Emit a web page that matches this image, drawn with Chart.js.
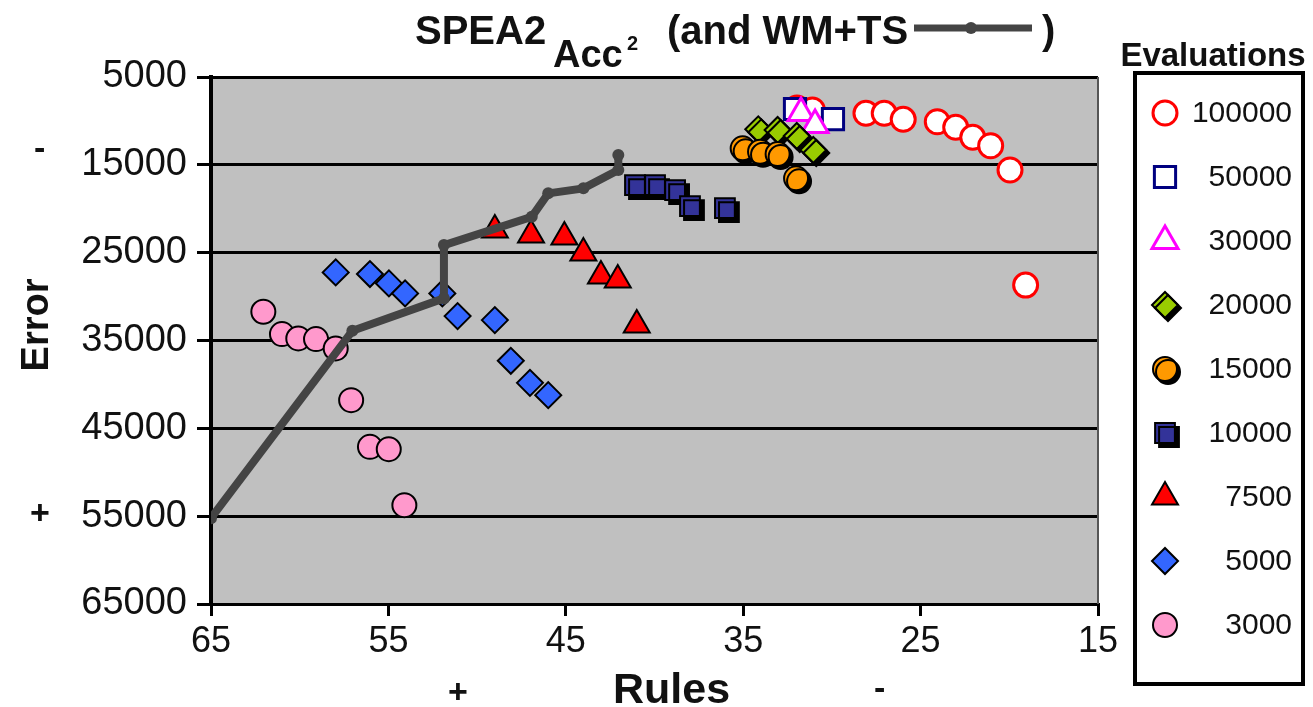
<!DOCTYPE html>
<html><head><meta charset="utf-8">
<script src="https://cdn.jsdelivr.net/npm/chart.js@4.4.1/dist/chart.umd.min.js"></script>
<style>
html,body{margin:0;padding:0;background:#fff;}
#wrap{position:relative;width:1313px;height:707px;font-family:"Liberation Sans",Arial,Helvetica,sans-serif;color:#111;overflow:hidden;}
#c{position:absolute;left:0;top:0;}
.t{position:absolute;white-space:nowrap;line-height:1;}
</style></head><body>
<div id="wrap">
<canvas id="c" width="1313" height="707"></canvas>
<div class="t" style="left:415px;top:10px;font-size:40px;font-weight:bold">SPEA2</div>
<div class="t" style="left:553px;top:35px;font-size:38px;font-weight:bold">Acc</div>
<div class="t" style="left:627px;top:33px;font-size:20px;font-weight:bold">2</div>
<div class="t" style="left:667px;top:10px;font-size:40px;font-weight:bold">(and WM+TS</div>
<svg class="t" style="left:912px;top:17px" width="124" height="22"><line x1="2" y1="11" x2="120" y2="11" stroke="#444" stroke-width="7"/><circle cx="59" cy="11" r="6" fill="#444"/></svg>
<div class="t" style="left:1042px;top:10px;font-size:40px;font-weight:bold">)</div>
<div class="t" style="left:16px;top:325px;font-size:38px;font-weight:bold;transform:translate(0,-50%) rotate(-90deg);transform-origin:50% 50%;width:100px;margin-left:-31px;text-align:center">Error</div>
<div class="t" style="left:34px;top:130px;font-size:34px;font-weight:bold">-</div>
<div class="t" style="left:30px;top:495px;font-size:34px;font-weight:bold">+</div>
<div class="t" style="left:613px;top:667px;font-size:43px;font-weight:bold">Rules</div>
<div class="t" style="left:448px;top:674px;font-size:34px;font-weight:bold">+</div>
<div class="t" style="left:874px;top:670px;font-size:34px;font-weight:bold">-</div>
</div>
<script>
// ---- data ----
const xTickValues = [65, 55, 45, 35, 25, 15];
const yTickValues = [5000, 15000, 25000, 35000, 45000, 55000, 65000];
const evalLabels = ['100000', '50000', '30000', '20000', '15000', '10000', '7500', '5000', '3000'];

const ev100000X = [31.97, 31.1, 28.08, 27.05, 25.98, 24.06, 23.02, 22.06, 21.05, 19.96, 19.08];
const ev100000Y = [8531, 8759, 9134, 9134, 9818, 10091, 10729, 11868, 12825, 15593, 28691];
const ev50000X = [32.08, 29.94];
const ev50000Y = [8645, 9784];
const ev30000X = [31.74, 30.95];
const ev30000Y = [9100, 10467];
const ev20000X = [34.15, 33.06, 31.98, 31.05];
const ev20000Y = [10957, 11037, 11720, 13315];
const ev15000X = [35.03, 34.05, 33.06, 32.02];
const ev15000Y = [13121, 13508, 13770, 16538];
const ev10000X = [41.1, 39.97, 38.84, 38.0, 36.03];
const ev10000Y = [17301, 17301, 17871, 19693, 19921];
const ev7500X = [49.0, 46.96, 45.08, 44.01, 43.02, 42.07, 41.0];
const ev7500Y = [22427, 22996, 23224, 25046, 27666, 28122, 33247];
const ev5000X = [57.97, 56.04, 54.97, 54.06, 51.96, 51.1, 49.0, 48.1, 47.02, 45.99];
const ev5000Y = [27245, 27438, 28498, 29637, 29637, 32222, 32678, 37313, 39820, 41220];
const ev3000X = [62.05, 61.0, 60.08, 59.08, 57.97, 57.1, 56.04, 54.98, 54.1];
const ev3000Y = [31733, 34272, 34762, 34842, 35901, 41790, 47108, 47371, 53749];
const wmtsX = [65, 57.03, 51.87, 51.87, 46.92, 45.99, 44.01, 42.04, 42.04];
const wmtsY = [55230, 33896, 30206, 24135, 20912, 18247, 17677, 15593, 13884];

const seriesX = [ev100000X, ev50000X, ev30000X, ev20000X, ev15000X, ev10000X, ev7500X, ev5000X, ev3000X];
const seriesY = [ev100000Y, ev50000Y, ev30000Y, ev20000Y, ev15000Y, ev10000Y, ev7500Y, ev5000Y, ev3000Y];

// ---- styles ----
const styles = [
  {ps:'circle', r:12, bg:'#ffffff', bc:'#ff0000', bw:3, order:6},
  {ps:'rect', r:15, bg:'#ffffff', bc:'#000080', bw:3, order:5},
  {ps:'triangle', r:15, bg:'#ffffff', bc:'#ff00ff', bw:3, order:4},
  {ps:'rectRot', r:13, bg:'#99cc00', bc:'#000000', bw:2, shadow:3, order:3},
  {ps:'circle', r:12, bg:'#ff9900', bc:'#000000', bw:2, shadow:3, order:2},
  {ps:'rect', r:14, bg:'#333399', bc:'#000000', bw:2, shadow:4, order:7},
  {ps:'triangle', r:15, bg:'#ff0000', bc:'#000000', bw:2, order:8},
  {ps:'rectRot', r:13, bg:'#3366ff', bc:'#000000', bw:2, order:9},
  {ps:'circle', r:12, bg:'#ff99cc', bc:'#000000', bw:2, order:10},
];

function pts(xs, ys) { return xs.map((x, i) => ({x: x, y: ys[i]})); }

const datasets = [{
  label: 'WM+TS',
  data: pts(wmtsX, wmtsY),
  showLine: true,
  borderColor: '#444444',
  backgroundColor: '#444444',
  borderWidth: 8,
  pointRadius: 6,
  pointBorderWidth: 0,
  pointBackgroundColor: '#444444',
  order: 0
}];
evalLabels.forEach((lab, i) => {
  const s = styles[i];
  datasets.push({
    label: lab,
    data: pts(seriesX[i], seriesY[i]),
    pointStyle: s.ps,
    pointRadius: s.r,
    pointBackgroundColor: s.bg,
    pointBorderColor: s.bc,
    pointBorderWidth: s.bw,
    showLine: false,
    shadow: s.shadow || 0,
    order: s.order
  });
});

function drawMarker(ctx, style, x, y, r) {
  ctx.beginPath();
  if (style === 'circle') {
    ctx.arc(x, y, r, 0, Math.PI * 2);
  } else if (style === 'rect') {
    const h = Math.SQRT1_2 * r;
    ctx.rect(x - h, y - h, 2 * h, 2 * h);
  } else if (style === 'rectRot') {
    ctx.moveTo(x - r, y); ctx.lineTo(x, y - r); ctx.lineTo(x + r, y); ctx.lineTo(x, y + r);
    ctx.closePath();
  } else if (style === 'triangle') {
    const a = Math.PI * 2 / 3;
    ctx.moveTo(x, y - r);
    ctx.lineTo(x + Math.sin(a) * r, y - Math.cos(a) * r);
    ctx.lineTo(x + Math.sin(2 * a) * r, y - Math.cos(2 * a) * r);
    ctx.closePath();
  }
  ctx.fill();
  ctx.stroke();
}

const framePlugin = {
  id: 'frame',
  beforeDraw(chart) {
    const a = chart.chartArea, ctx = chart.ctx;
    ctx.save();
    ctx.fillStyle = '#c0c0c0';
    ctx.fillRect(a.left, a.top, a.right - a.left, a.bottom - a.top);
    ctx.restore();
  },
  afterDraw(chart) {
    const a = chart.chartArea, ctx = chart.ctx;
    ctx.save();
    ctx.strokeStyle = '#555';
    ctx.lineWidth = 2;
    ctx.beginPath(); ctx.moveTo(a.right, a.top); ctx.lineTo(a.right, a.bottom); ctx.stroke();
    // legend
    ctx.fillStyle = '#111';
    ctx.font = 'bold 33px "Liberation Sans", Arial, sans-serif';
    ctx.textAlign = 'center'; ctx.textBaseline = 'middle';
    ctx.fillText('Evaluations', 1213, 57);
    ctx.strokeStyle = '#000'; ctx.lineWidth = 4;
    ctx.strokeRect(1135, 73, 168, 611);
    ctx.font = '30px "Liberation Sans", Arial, sans-serif';
    ctx.textAlign = 'right';
    evalLabels.forEach((lab, i) => {
      const s = styles[i];
      const y = 113 + i * 64;
      ctx.save();
      if (s.shadow) { ctx.shadowColor = '#000'; ctx.shadowOffsetX = s.shadow; ctx.shadowOffsetY = s.shadow; ctx.shadowBlur = 0; }
      ctx.fillStyle = s.bg; ctx.strokeStyle = s.bc; ctx.lineWidth = s.bw;
      drawMarker(ctx, s.ps, 1165, y, s.r);
      ctx.restore();
      ctx.fillStyle = '#111';
      ctx.fillText(lab, 1292, y + 1);
    });
    ctx.restore();
  },
  beforeDatasetDraw(chart, args) {
    const ds = chart.data.datasets[args.index];
    const ctx = chart.ctx;
    ctx.save();
    if (ds.shadow) {
      ctx.shadowColor = '#000';
      ctx.shadowOffsetX = ds.shadow;
      ctx.shadowOffsetY = ds.shadow;
      ctx.shadowBlur = 0;
    }
  },
  afterDatasetDraw(chart) {
    chart.ctx.restore();
  }
};

new Chart(document.getElementById('c'), {
  type: 'scatter',
  data: {datasets: datasets},
  options: {
    responsive: false,
    devicePixelRatio: 1,
    animation: false,
    events: [],
    layout: {padding: {left: 0, top: 77, right: 215, bottom: 0}},
    plugins: {legend: {display: false}, title: {display: false}, tooltip: {enabled: false}},
    scales: {
      x: {
        type: 'linear', reverse: true, min: 15, max: 65,
        afterBuildTicks: s => { s.ticks = xTickValues.map(v => ({value: v})); },
        afterFit: s => { s.height = 103; },
        grid: {drawOnChartArea: false, drawTicks: true, tickLength: 12, color: '#000', lineWidth: 3},
        border: {display: true, color: '#000', width: 3},
        ticks: {color: '#111', padding: 4, font: {size: 36, family: '"Liberation Sans", Arial, sans-serif'}, maxRotation: 0, autoSkip: false}
      },
      y: {
        type: 'linear', reverse: true, min: 5000, max: 65000,
        afterBuildTicks: s => { s.ticks = yTickValues.map(v => ({value: v})); },
        afterFit: s => { s.width = 211; },
        grid: {drawOnChartArea: true, drawTicks: true, tickLength: 14, color: '#000', lineWidth: 3},
        border: {display: true, color: '#000', width: 4},
        ticks: {color: '#111', padding: 10, font: {size: 38, family: '"Liberation Sans", Arial, sans-serif'}, autoSkip: false,
          callback: v => String(v)}
      }
    }
  },
  plugins: [framePlugin]
});
</script>
</body></html>
